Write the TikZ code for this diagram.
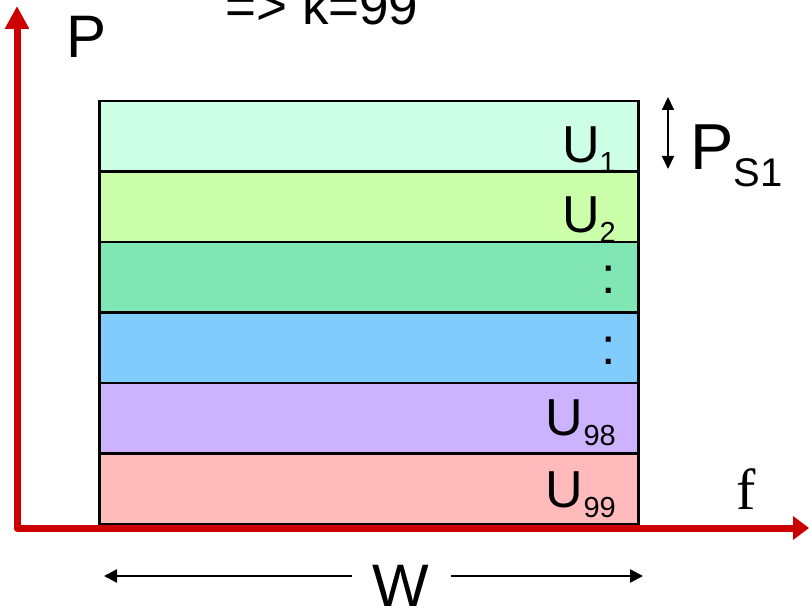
\documentclass[tikz,border=0pt]{standalone}
\usepackage{fontspec}
\setmainfont{Liberation Sans}
\newfontfamily\seriffont{Liberation Serif}
\usetikzlibrary{arrows.meta}
\definecolor{axisred}{RGB}{204,0,0}
\definecolor{rowA}{RGB}{204,255,230}
\definecolor{rowB}{RGB}{204,255,170}
\definecolor{rowC}{RGB}{128,230,179}
\definecolor{rowD}{RGB}{128,204,255}
\definecolor{rowE}{RGB}{204,179,255}
\definecolor{rowF}{RGB}{255,187,187}
\newcommand{\ulab}[1]{U\raisebox{-10pt}{\fontsize{29}{29}\selectfont #1}}
\begin{document}
\begin{tikzpicture}[x=1pt,y=1pt,
  rowbox/.style={draw=black,line width=2.5pt,minimum width=539pt,minimum height=70.5pt,inner sep=0pt,anchor=north west},
  lab/.style={inner sep=0pt,anchor=base east,font=\fontsize{52}{60}\selectfont},
  axisline/.style={draw=axisred,line width=7pt,line join=round},
  onearrow/.style={line width=2.5pt,-{Triangle[length=13pt,width=13pt]}}]
\useasboundingbox (0,0) rectangle (809,611);
% rows
\node[rowbox,fill=rowA] (r1) at (98,511) {};
\node[rowbox,fill=rowB] (r2) at (98,440.5) {};
\node[rowbox,fill=rowC] (r3) at (98,370) {};
\node[rowbox,fill=rowD] (r4) at (98,299.5) {};
\node[rowbox,fill=rowE] (r5) at (98,229) {};
\node[rowbox,fill=rowF] (r6) at (98,158.5) {};
% row labels
\node[lab] (l1) at (616,448) {\ulab{1}};
\node[lab] (l2) at (616,378) {\ulab{2}};
\node[lab] (l3) at (616,317) {:};
\node[lab] (l4) at (616,246) {:};
\node[lab] (l5) at (616,175) {\ulab{98}};
\node[lab] (l6) at (616,103) {\ulab{99}};
% axes
\coordinate (ytip) at (17,605);
\coordinate (orig) at (17,83);
\coordinate (xtip) at (809,83);
\draw[axisline,{Triangle[length=23pt,width=23pt]}-{Triangle[length=16pt,width=23pt]}] (ytip) -- (orig) -- (xtip);
% axis labels
\node[inner sep=0pt,anchor=base west,font=\fontsize{60}{60}\selectfont] (P) at (66,553) {P};
\node[inner sep=0pt,anchor=base west,font=\fontsize{58}{60}\seriffont] (f) at (736,101) {f};
\node[inner sep=0pt,anchor=base,font=\fontsize{53}{60}\selectfont] (k) at (322,586) {=> k=99};
% P_S1
\coordinate (pa) at (668,514);
\coordinate (pb) at (668,442);
\draw[line width=2pt,{Triangle[length=13pt,width=12pt]}-{Triangle[length=13pt,width=12pt]}] (pa) -- (pb);
\node[inner sep=0pt,anchor=base west,font=\fontsize{65}{65}\selectfont] (ps) at (690,441) {P\raisebox{-17pt}{\fontsize{40}{40}\selectfont S1}};
% W
\node[inner sep=0pt,font=\fontsize{60}{60}\selectfont,anchor=base] (W) at (401,5) {W};
\coordinate (wl) at (104,35);
\coordinate (wr) at (643,35);
\draw[onearrow] (352,35) -- (wl);
\draw[onearrow] (451,35) -- (wr);
\end{tikzpicture}
\end{document}
